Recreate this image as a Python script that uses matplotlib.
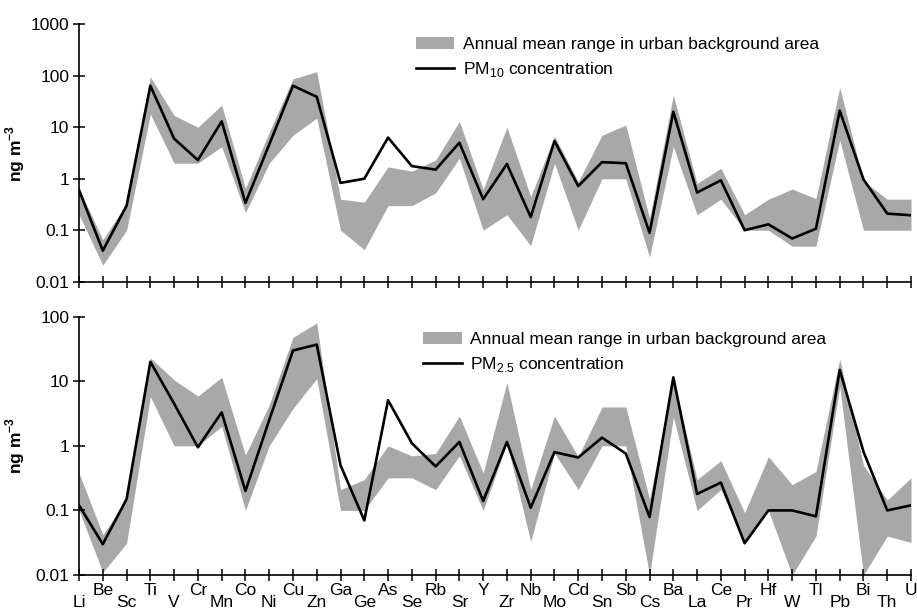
import numpy as np
import matplotlib.pyplot as plt
from matplotlib.patches import Patch
from matplotlib.lines import Line2D

plt.rcParams['font.family'] = ['Liberation Sans', 'DejaVu Sans']
plt.rcParams['mathtext.fontset'] = 'custom'
plt.rcParams['mathtext.rm'] = 'Liberation Sans'
plt.rcParams['mathtext.bf'] = 'Liberation Sans:bold'

# 元素
elements = ['Li', 'Be', 'Sc', 'Ti', 'V', 'Cr', 'Mn', 'Co', 'Ni', 'Cu', 'Zn', 'Ga',
            'Ge', 'As', 'Se', 'Rb', 'Sr', 'Y', 'Zr', 'Nb', 'Mo', 'Cd', 'Sn', 'Sb',
            'Cs', 'Ba', 'La', 'Ce', 'Pr', 'Hf', 'W', 'Tl', 'Pb', 'Bi', 'Th', 'U']

# PM10
pm10 = [0.6, 0.04, 0.3, 64, 6, 2.3, 13, 0.34, 4.6, 64, 39, 0.83, 1.0, 6.3, 1.76, 1.5,
        5, 0.4, 1.93, 0.18, 5.4, 0.72, 2.1, 2.0, 0.089, 20, 0.54, 0.93, 0.10, 0.13,
        0.069, 0.107, 21, 0.97, 0.21, 0.195]
pm10_low = [0.2, 0.021, 0.1, 18, 2, 2, 4.2, 0.22, 2, 7, 15, 0.1, 0.042, 0.3, 0.3, 0.53,
            2.5, 0.1, 0.2, 0.05, 2.0, 0.1, 1.0, 1.0, 0.03, 4.2, 0.2, 0.4, 0.1, 0.1,
            0.049, 0.049, 5.6, 0.1, 0.1, 0.1]
pm10_high = [0.65, 0.065, 0.33, 95, 17, 10, 27, 0.65, 8, 87, 120, 0.4, 0.35, 1.7, 1.4, 2.3,
             13, 0.62, 10, 0.45, 6.7, 0.87, 7, 11, 0.17, 42, 0.81, 1.6, 0.2, 0.4,
             0.63, 0.41, 59, 0.9, 0.4, 0.4]

# PM2.5
pm25 = [0.12, 0.03, 0.15, 20, 4.5, 0.95, 3.3, 0.2, 2.5, 30, 37, 0.5, 0.07, 5.1, 1.1, 0.48,
        1.15, 0.14, 1.15, 0.11, 0.8, 0.66, 1.34, 0.76, 0.079, 11.5, 0.18, 0.27, 0.031, 0.1,
        0.1, 0.081, 15, 0.81, 0.1, 0.12]
pm25_low = [0.1, 0.011, 0.031, 5.8, 1.0, 1.0, 2.0, 0.1, 1.0, 3.8, 11, 0.1, 0.1, 0.32, 0.32, 0.21,
            0.7, 0.1, 1.1, 0.033, 0.77, 0.21, 1.0, 1.0, 0.01, 2.8, 0.1, 0.21, 0.031, 0.1,
            0.01, 0.04, 8.3, 0.01, 0.04, 0.032]
pm25_high = [0.38, 0.042, 0.15, 23, 10.5, 5.9, 11.5, 0.72, 4.3, 48, 80, 0.21, 0.30, 1.0, 0.70, 0.76,
             2.9, 0.38, 9.6, 0.21, 2.9, 0.68, 4.0, 4.0, 0.15, 11, 0.30, 0.59, 0.092, 0.68,
             0.25, 0.40, 22, 0.5, 0.145, 0.32]

band_label = 'Annual mean range in urban background area'
band_color = '#a8a8a8'
x = np.arange(len(elements))

fig = plt.figure(figsize=(9.17, 6.10), dpi=100)
ax1 = fig.add_axes([0.0862, 0.5382, 0.9073, 0.4220])
ax2 = fig.add_axes([0.0862, 0.0574, 0.9073, 0.4234])

panels = [
    (ax1, pm10, pm10_low, pm10_high, 'PM$_{10}$ concentration', 1000, (0.405, 0.95)),
    (ax2, pm25, pm25_low, pm25_high, 'PM$_{2.5}$ concentration', 100, (0.414, 0.94)),
]

for ax, conc, low, high, lab, ytop, anchor in panels:
    ax.fill_between(x, low, high, color=band_color, linewidth=0)
    ax.plot(x, conc, color='black', lw=1.9)
    ax.set_yscale('log')
    ax.set_ylim(0.01, ytop)
    ax.set_xlim(0, len(elements) - 1)
    ticks = [10.0 ** k for k in range(-2, int(np.log10(ytop)) + 1)]
    ax.set_yticks(ticks, ['%g' % t for t in ticks])
    ax.yaxis.set_minor_locator(plt.NullLocator())
    ax.set_xticks(x, [''] * len(x))
    ax.tick_params(direction='inout', length=8, width=1.1, labelsize=12.5, pad=3)
    ax.spines['top'].set_visible(False)
    ax.spines['right'].set_visible(False)
    ax.spines['left'].set_linewidth(1.2)
    ax.spines['bottom'].set_linewidth(1.2)
    ax.set_ylabel(r'ng m$^{\mathbf{-3}}$', fontsize=12.5, fontweight='bold')
    ax.yaxis.set_label_coords(-0.062, 0.5)
    handles = [Patch(color=band_color, linewidth=0), Line2D([], [], color='black', lw=1.9)]
    ax.legend(handles, [band_label, lab], loc='upper left', bbox_to_anchor=anchor,
              frameon=False, fontsize=12.5, handlelength=2.2, handletextpad=0.5,
              labelspacing=0.45, borderpad=0, borderaxespad=0)

# 元素标签上下交错
for i, name in enumerate(elements):
    off = 6 if i % 2 == 1 else 14.5
    ax2.annotate(name, xy=(i, 0), xycoords=('data', 'axes fraction'),
                 xytext=(0, -off), textcoords='offset points',
                 ha='center', va='top', fontsize=12.5)

fig.savefig('out.png', dpi=100)
